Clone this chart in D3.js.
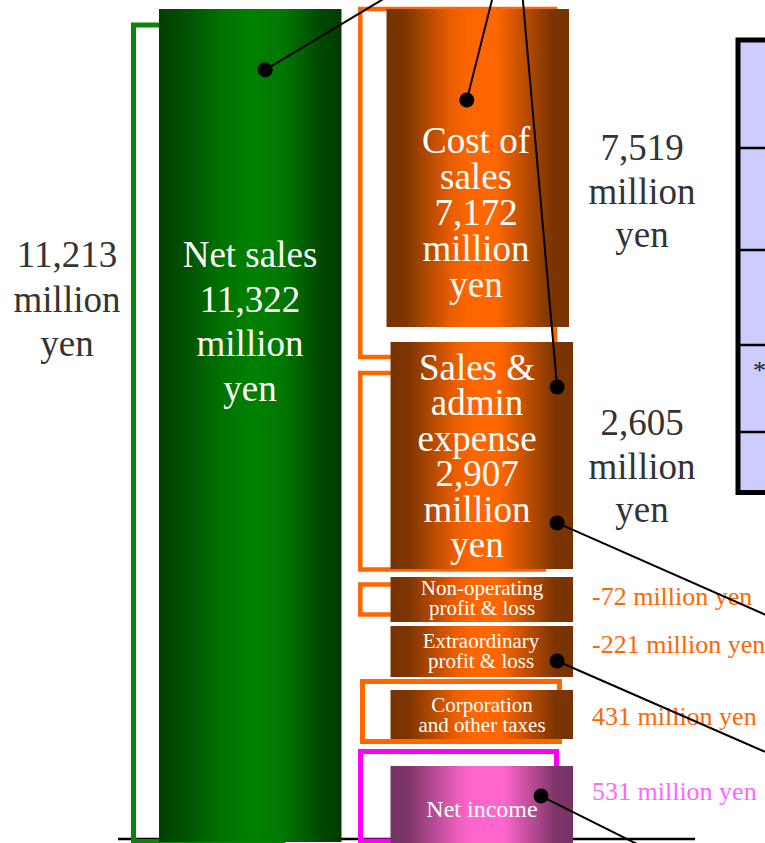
<!DOCTYPE html>
<html>
<head>
<meta charset="utf-8">
<script src="https://cdn.jsdelivr.net/npm/d3@7"></script>
<style>
  html, body { margin: 0; padding: 0; background: #fff; overflow: hidden; }
  svg { display: block; font-family: "Liberation Serif", "Times New Roman", serif; }
</style>
</head>
<body>
<svg id="chart" width="765" height="843"></svg>
<script>
// ---- data ----
const items = [
  "Net sales",
  "Cost of sales",
  "Sales & admin expense",
  "Non-operating profit & loss",
  "Extraordinary profit & loss",
  "Corporation and other taxes",
  "Net income",
];
const itemLines = [
  ["Net sales"],
  ["Cost of", "sales"],
  ["Sales &", "admin", "expense"],
  ["Non-operating", "profit & loss"],
  ["Extraordinary", "profit & loss"],
  ["Corporation", "and other taxes"],
  ["Net income"],
];
const itemColumn = ["sales", "costs", "costs", "costs", "costs", "costs", "costs"];
const barValues = [11322, 7172, 2907, null, null, null, null];
const bracketValues = [11213, 7519, 2605, -72, -221, 431, 531];
const tableRows = ["", "", "", "*", ""];

// ---- layout (slide units) ----
const barTop = [9, 9, 342, 577, 626, 690, 766];
const barBottom = [842, 327, 569, 622, 677, 739, 843];
const barShift = [0, -4, 0, 0, 0, 0, 0];
const barFill = ["green", "orange", "orange", "orange", "orange", "orange", "pink"];
const innerFont = [37, 37, 37, 21, 21, 21, 24];
const innerLead = [44.5, 36, 35.4, 20, 20, 20, 20];
const innerFirst = [267, 153, 380, 595, 648, 712, 817];
const innerCx = [250, 476, 477, 482, 481, 482, 482];

const bracketBox = [
  [133.5, 25, 283, 841.5],
  [360.3, 9, 555, 357],
  [360.3, 373, 544, 569.5],
  [360.3, 584.5, 450, 614.5],
  [362.5, 681.5, 559.5, 741.5],
  [360.5, 751.5, 556.5, 841],
];
const bracketColor = ["#0a850a", "#ff6600", "#ff6600", "#ff6600", "#ff6600", "#ff00ff"];
const bracketStroke = [5, 4.5, 4.5, 4.5, 5, 5];

const callouts = [
  { i: 0, fx: 0.582, fy: 0.073, end: [400, -11] },
  { i: 1, fx: 0.44, fy: 0.286, end: [494, -8] },
  { i: 2, fx: 0.913, fy: 0.198, end: [522, -10] },
  { i: 2, fx: 0.913, fy: 0.797, end: [800, 630] },
  { i: 4, fx: 0.913, fy: 0.686, end: [800, 767] },
  { i: 6, fx: 0.825, fy: 0.39, end: [660, 855.5] },
];

const fmt = d3.formatLocale({
  decimal: ".",
  thousands: ",",
  grouping: [3],
  currency: ["", ""],
  minus: "-",
}).format(",");

const svg = d3.select("#chart");
const width = 765, height = 843;

const x = d3.scaleBand().domain(["sales", "costs"]).range([159, 573]).paddingInner(0.2117);
const y = d3.scaleLinear().domain([0, height]).range([0, height]);

// gradients
const defs = svg.append("defs");
const gradients = {
  green: [[0, "#003f00"], [0.1, "#004a00"], [0.35, "#007300"], [0.5, "#008000"], [0.68, "#007800"], [0.9, "#004600"], [1, "#003b00"]],
  orange: [[0, "#773300"], [0.1, "#7d3500"], [0.35, "#e85d00"], [0.45, "#ff6600"], [0.6, "#ff6600"], [0.9, "#7d3500"], [1, "#773300"]],
  pink: [[0, "#773366"], [0.1, "#7f3669"], [0.38, "#f060c0"], [0.45, "#ff66cc"], [0.62, "#ff66cc"], [0.9, "#7f3669"], [1, "#773366"]],
};
Object.entries(gradients).forEach(([name, stops]) => {
  defs
    .append("linearGradient")
    .attr("id", "grad-" + name)
    .attr("x1", "0%")
    .attr("x2", "100%")
    .attr("y1", "0%")
    .attr("y2", "0%")
    .selectAll("stop")
    .data(stops)
    .enter()
    .append("stop")
    .attr("offset", (d) => d[0] * 100 + "%")
    .attr("stop-color", (d) => d[1]);
});

// comparison table on the right (cut off by the frame)
const tableTop = 40, tableBottom = 492.5;
const rowY = d3.scaleLinear().domain([0, 1, 2, 3, 4, 5]).range([tableTop, 148, 250, 345, 432, tableBottom]);
svg
  .append("rect")
  .attr("x", 738)
  .attr("y", tableTop)
  .attr("width", 60)
  .attr("height", tableBottom - tableTop)
  .attr("fill", "#ccccff")
  .attr("stroke", "#000")
  .attr("stroke-width", 5);
svg
  .selectAll(".row-line")
  .data(tableRows.slice(1))
  .enter()
  .append("line")
  .attr("x1", 738)
  .attr("x2", width)
  .attr("y1", (d, i) => rowY(i + 1))
  .attr("y2", (d, i) => rowY(i + 1))
  .attr("stroke", "#000")
  .attr("stroke-width", 2.5);
svg
  .selectAll(".row-text")
  .data(tableRows)
  .enter()
  .append("text")
  .attr("x", 753)
  .attr("y", (d, i) => rowY(i) + 34)
  .attr("font-size", 26)
  .attr("fill", "#222")
  .text((d) => d);

// baseline
svg
  .append("line")
  .attr("x1", 118)
  .attr("x2", 695)
  .attr("y1", y(839))
  .attr("y2", y(839))
  .attr("stroke", "#000")
  .attr("stroke-width", 2.5);

// brackets
svg
  .selectAll(".bracket")
  .data(bracketBox)
  .enter()
  .append("rect")
  .attr("x", (d) => d[0])
  .attr("y", (d) => y(d[1]))
  .attr("width", (d) => d[2] - d[0])
  .attr("height", (d) => y(d[3]) - y(d[1]))
  .attr("fill", "none")
  .attr("stroke", (d, i) => bracketColor[i])
  .attr("stroke-width", (d, i) => bracketStroke[i]);

// bars
svg
  .selectAll(".bar")
  .data(items)
  .enter()
  .append("rect")
  .attr("x", (d, i) => x(itemColumn[i]) + barShift[i])
  .attr("y", (d, i) => y(barTop[i]))
  .attr("width", x.bandwidth())
  .attr("height", (d, i) => y(barBottom[i]) - y(barTop[i]))
  .attr("fill", (d, i) => "url(#grad-" + barFill[i] + ")");

// texts inside bars
items.forEach((name, i) => {
  const lines = itemLines[i].slice();
  if (barValues[i] !== null) lines.push(fmt(barValues[i]), "million", "yen");
  svg
    .append("text")
    .attr("text-anchor", "middle")
    .attr("font-size", innerFont[i])
    .attr("fill", "#fff")
    .selectAll("tspan")
    .data(lines)
    .enter()
    .append("tspan")
    .attr("x", innerCx[i])
    .attr("y", (d, k) => y(innerFirst[i] + k * innerLead[i]))
    .text((d) => d);
});

// comparison values next to brackets
const bigLabel = [
  { x: 67, y: 267, lead: 44.5 },
  { x: 642, y: 160, lead: 43.5 },
  { x: 642, y: 435, lead: 43.5 },
];
const smallLabelY = [605, 653, 725, 800];
bracketValues.forEach((v, i) => {
  if (i < 3) {
    svg
      .append("text")
      .attr("text-anchor", "middle")
      .attr("font-size", 37)
      .attr("fill", "#333")
      .selectAll("tspan")
      .data([fmt(v), "million", "yen"])
      .enter()
      .append("tspan")
      .attr("x", bigLabel[i].x)
      .attr("y", (d, k) => y(bigLabel[i].y + k * bigLabel[i].lead))
      .text((d) => d);
  } else {
    svg
      .append("text")
      .attr("x", 592)
      .attr("y", y(smallLabelY[i - 3]))
      .attr("font-size", 26)
      .attr("fill", i === 6 ? "#ff66ff" : "#ff6600")
      .text(fmt(v) + " million yen");
  }
});

// callout lines with dots
const dotPos = (c) => {
  const x0 = x(itemColumn[c.i]) + barShift[c.i];
  return [
    x0 + c.fx * x.bandwidth(),
    y(barTop[c.i]) + c.fy * (y(barBottom[c.i]) - y(barTop[c.i])),
  ];
};
svg
  .selectAll(".callout")
  .data(callouts)
  .enter()
  .append("line")
  .attr("x1", (d) => dotPos(d)[0])
  .attr("y1", (d) => dotPos(d)[1])
  .attr("x2", (d) => d.end[0])
  .attr("y2", (d) => d.end[1])
  .attr("stroke", "#000")
  .attr("stroke-width", 2);
svg
  .selectAll(".dot")
  .data(callouts)
  .enter()
  .append("circle")
  .attr("cx", (d) => dotPos(d)[0])
  .attr("cy", (d) => dotPos(d)[1])
  .attr("r", 7.5)
  .attr("fill", "#000");
</script>
</body>
</html>
